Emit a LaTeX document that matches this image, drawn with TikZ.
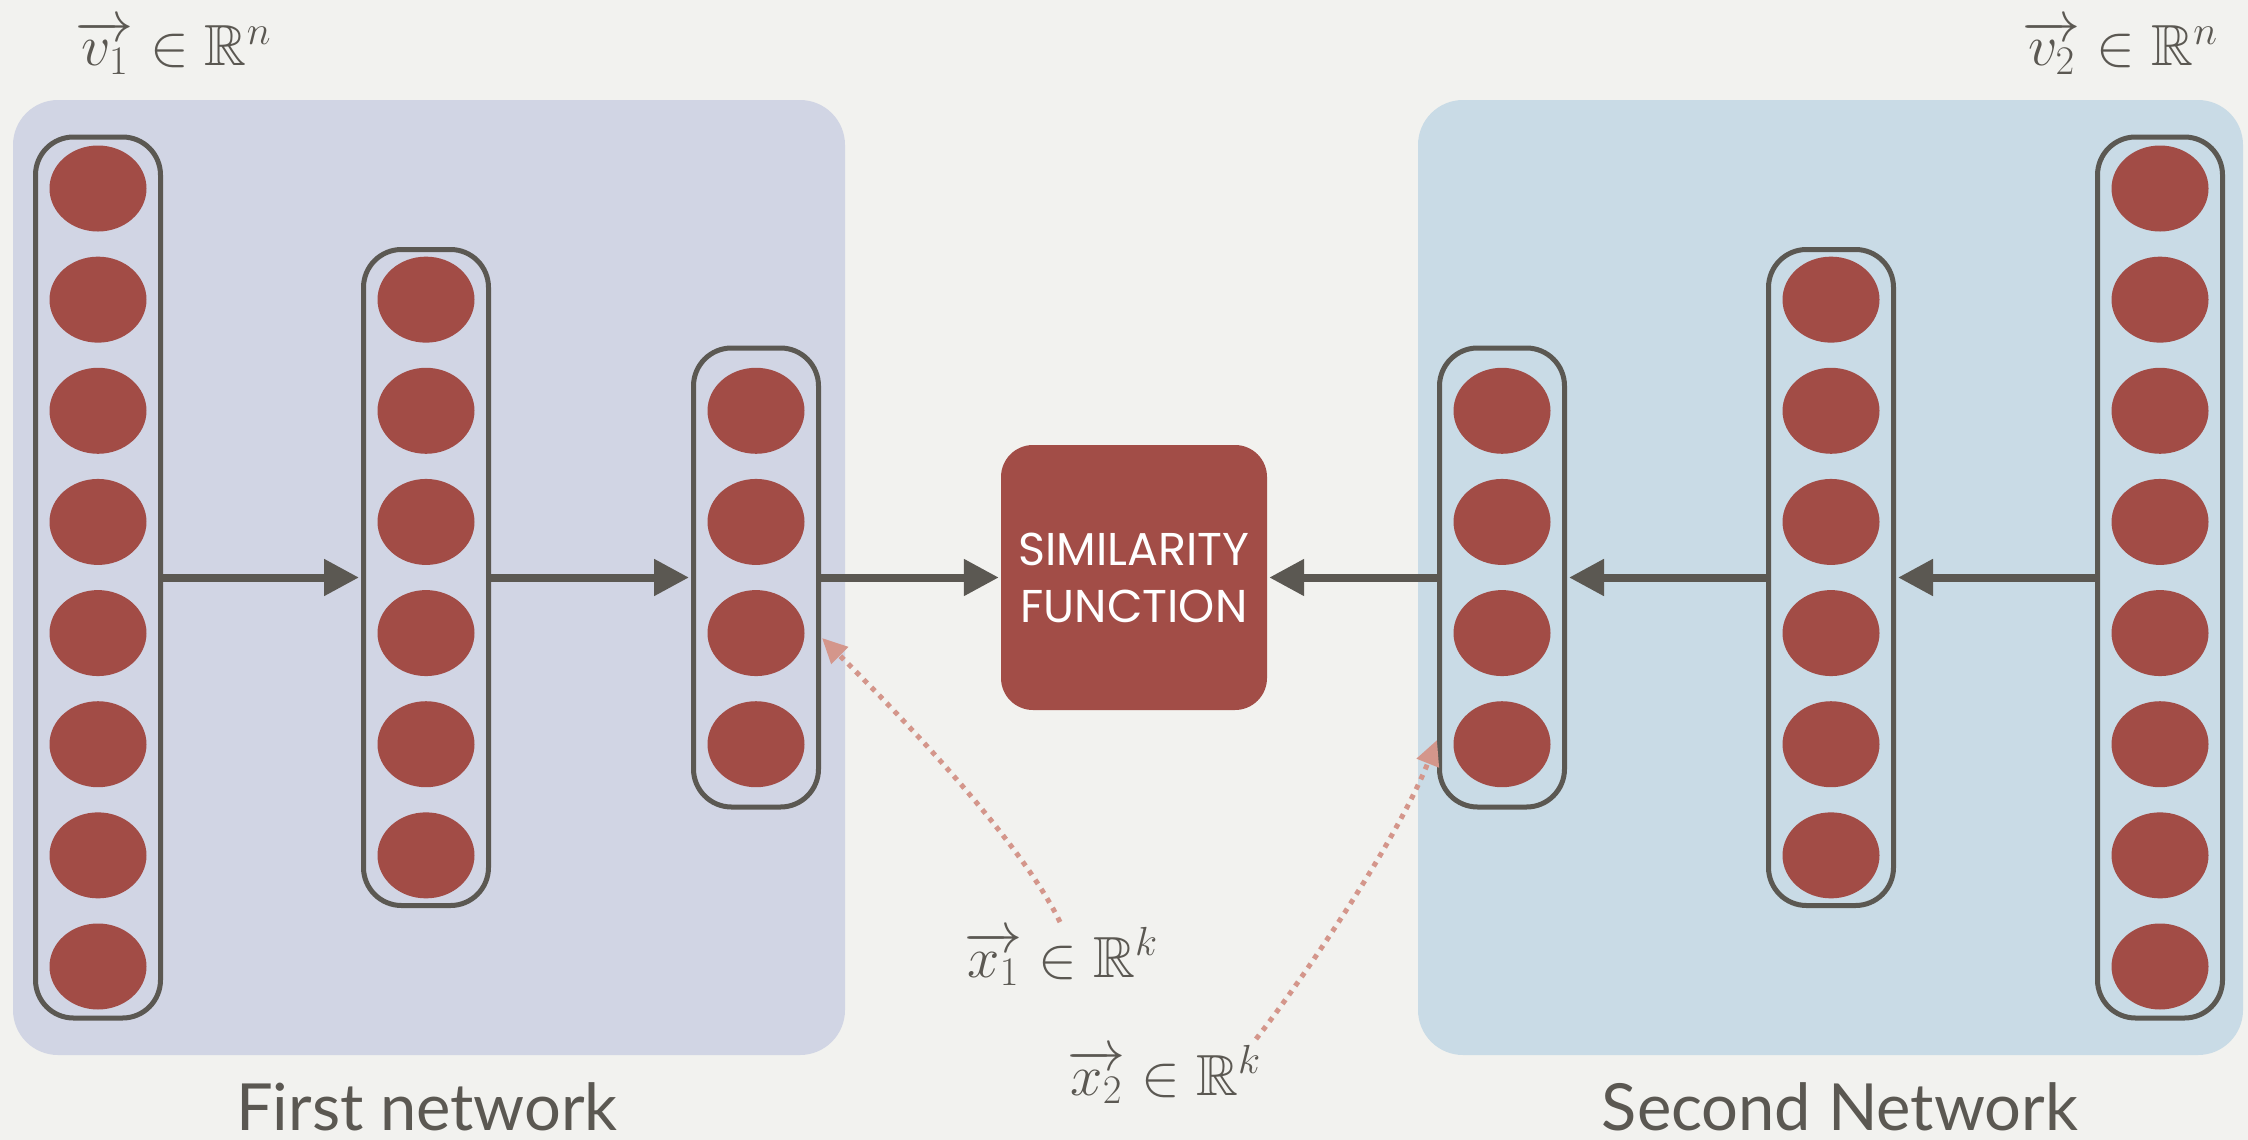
\RequirePackage{fix-cm}
\documentclass[tikz,border=0pt]{standalone}
\usepackage{amsmath,amssymb}
\usepackage{fontspec}
\DeclareFontFamily{U}{msb}{}
\DeclareFontShape{U}{msb}{m}{n}{<-> msbm10}{}
\usetikzlibrary{arrows.meta,shapes.geometric}
\newfontfamily\labfont{Lato}
\newfontfamily\simfont{Poppins}
\definecolor{bgc}{HTML}{F2F2EF}
\definecolor{panelA}{HTML}{D1D5E4}
\definecolor{panelB}{HTML}{C9DBE6}
\definecolor{neuronc}{HTML}{A24C46}
\definecolor{simred}{HTML}{A24D47}
\definecolor{ink}{HTML}{5B5852}
\definecolor{salmon}{HTML}{D4968B}
\begin{document}
\begin{tikzpicture}[x=1pt,y=-1pt,
  panel/.style={rectangle, rounded corners=45pt, draw=none, minimum height=955pt, inner sep=0pt},
  layerbox/.style={rectangle, rounded corners=38pt, draw=ink, line width=5pt, minimum width=125pt, inner sep=0pt},
  neuronnode/.style={ellipse, fill=neuronc, minimum width=97pt, minimum height=86pt, inner sep=0pt},
  simbox/.style={rectangle, rounded corners=32pt, fill=simred, minimum width=266pt, minimum height=265pt, inner sep=0pt, text=white, align=center, font=\simfont\fontsize{46}{57}\selectfont},
  flow/.style={draw=ink, line width=8pt, shorten >=2pt, -{Triangle[length=35pt,width=35pt]}},
  feed/.style={draw=salmon, line width=5pt, dash pattern=on 5pt off 6pt, -{Triangle[length=25pt,width=23pt]}},
  mathlab/.style={text=ink, anchor=base, inner sep=0pt, font=\fontsize{58}{62}\selectfont},
  netlab/.style={text=ink, anchor=base, inner sep=0pt, font=\labfont\fontsize{65}{70}\selectfont}
]
\useasboundingbox (0,0) rectangle (2248,1140);
\fill[bgc] (0,0) rectangle (2248,1140);

% panels
\node[panel, fill=panelA, minimum width=832pt] (P1) at (429,577.5) {};
\node[panel, fill=panelB, minimum width=825pt] (P2) at (1830.5,577.5) {};

% layer boxes
\node[layerbox, minimum height=881pt] (L1) at (98,577.5) {};
\node[layerbox, minimum height=656pt] (L2) at (426,577.5) {};
\node[layerbox, minimum height=459pt] (L3) at (756,577.5) {};
\node[layerbox, minimum height=459pt] (R3) at (1502,577.5) {};
\node[layerbox, minimum height=656pt] (R2) at (1831,577.5) {};
\node[layerbox, minimum height=881pt] (R1) at (2160,577.5) {};

% neurons
\foreach \i in {1,...,8} {
  \node[neuronnode] (L1n\i) at (98,{577.5+(\i-4.5)*111.14}) {};
  \node[neuronnode] (R1n\i) at (2160,{577.5+(\i-4.5)*111.14}) {};
}
\foreach \i in {1,...,6} {
  \node[neuronnode] (L2n\i) at (426,{577.5+(\i-3.5)*111.14}) {};
  \node[neuronnode] (R2n\i) at (1831,{577.5+(\i-3.5)*111.14}) {};
}
\foreach \i in {1,...,4} {
  \node[neuronnode] (L3n\i) at (756,{577.5+(\i-2.5)*111.14}) {};
  \node[neuronnode] (R3n\i) at (1502,{577.5+(\i-2.5)*111.14}) {};
}

% similarity function
\node[simbox] (sim) at (1134,577.5) {SIMILARITY\\FUNCTION};

% flow arrows
\draw[flow] (L1.east) -- (L2.west);
\draw[flow] (L2.east) -- (L3.west);
\draw[flow] (L3.east) -- (sim.west);
\draw[flow] (R3.west) -- (sim.east);
\draw[flow] (R2.west) -- (R3.east);
\draw[flow] (R1.west) -- (R2.east);

% labels
\node[mathlab] (v1) at (173.5,66) {$\overrightarrow{v_1}\in\mathbb{R}^n$};
\node[mathlab] (v2) at (2120,66) {$\overrightarrow{v_2}\in\mathbb{R}^n$};
\node[mathlab] (x1) at (1061,977) {$\overrightarrow{x_1}\in\mathbb{R}^k$};
\node[mathlab] (x2) at (1164,1095) {$\overrightarrow{x_2}\in\mathbb{R}^k$};

\node[netlab] (n1) at (427,1130) {First network};
\node[netlab] (n2) at (1840,1130) {Second Network};

% feed-in dotted arrows
\coordinate (x1start) at (1060,922);
\coordinate (x2start) at (1256,1039);
\coordinate (L3in) at (822,638);
\coordinate (R3in) at (1437,740);
\draw[feed] (x1start) .. controls (1020,840) and (900,715) .. (L3in);
\draw[feed] (x2start) .. controls (1295,990) and (1395,845) .. (R3in);
\end{tikzpicture}
\end{document}
